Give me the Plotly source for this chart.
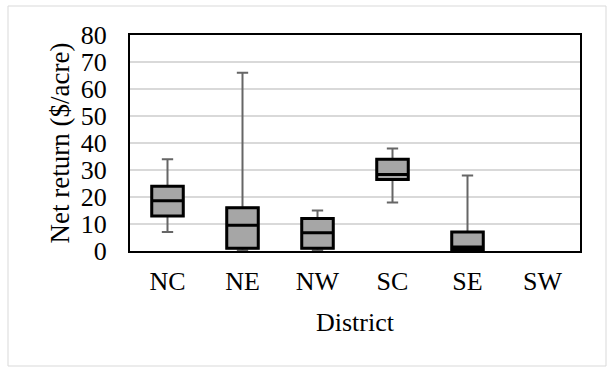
import plotly.graph_objects as go

districts = ["NC", "NE", "NW", "SC", "SE", "SW"]
box_districts = ["NC", "NE", "NW", "SC", "SE"]
lower = [7, 0.2, 0.2, 18, 0.2]
q1 = [13, 1, 1, 26.5, 0.5]
median = [18.6, 9.5, 6.8, 28.3, 1.5]
q3 = [24, 16, 12, 34, 7]
upper = [34, 66, 15, 38, 28]
y_ticks = [0, 10, 20, 30, 40, 50, 60, 70, 80]

FONT = "Liberation Serif, Times New Roman, serif"

fig = go.Figure()
# whiskers (gray)
fig.add_trace(go.Box(
    x=box_districts, q1=q1, median=median, q3=q3,
    lowerfence=lower, upperfence=upper,
    width=0.42, whiskerwidth=0.36,
    line=dict(color="#666666", width=2),
    fillcolor="#A6A6A6", showlegend=False, hoverinfo="skip",
))
# boxes (black outline)
fig.add_trace(go.Box(
    x=box_districts, q1=q1, median=median, q3=q3,
    lowerfence=q1, upperfence=q3,
    width=0.42, whiskerwidth=0,
    line=dict(color="#000000", width=3),
    fillcolor="#A6A6A6", showlegend=False, hoverinfo="skip",
))

W, H = 610, 369
L, R, T, B = 130, 30, 35, 118
pw, ph = W - L - R, H - T - B

def px(x):
    return (x - L) / pw

def py(y):
    return (H - B - y) / ph

fig.update_layout(
    width=W, height=H,
    margin=dict(l=L, r=R, t=T, b=B),
    paper_bgcolor="white", plot_bgcolor="white",
    boxmode="overlay",
    font=dict(family=FONT, color="#000000"),
    xaxis=dict(
        type="category", categoryorder="array", categoryarray=districts,
        range=[-0.5, 5.5], showgrid=False, zeroline=False,
        showline=True, linecolor="#000000", linewidth=2, mirror=True,
        ticks="", tickfont=dict(size=26, family=FONT),
        ticklabelstandoff=6,
    ),
    yaxis=dict(
        range=[0, 80], tickvals=y_ticks, ticktext=[str(v) for v in y_ticks],
        showgrid=True, gridcolor="#D9D9D9", gridwidth=1.5, zeroline=False,
        showline=True, linecolor="#000000", linewidth=2, mirror=True,
        ticks="", tickfont=dict(size=26, family=FONT),
        ticklabelstandoff=16,
    ),
    annotations=[
        dict(text="Net return ($/acre)", xref="paper", yref="paper",
             x=px(59.5), y=0.5, textangle=-90, showarrow=False,
             xanchor="center", yanchor="middle",
             font=dict(size=27, family=FONT)),
        dict(text="District", xref="paper", yref="paper",
             x=px(355), y=py(322), showarrow=False,
             xanchor="center", yanchor="middle",
             font=dict(size=26, family=FONT)),
    ],
    shapes=[
        dict(type="rect", xref="paper", yref="paper",
             x0=px(8), x1=px(606), y0=py(366), y1=py(6),
             line=dict(color="#D9D9D9", width=1), layer="below"),
    ],
)

fig.write_html("out.html")
